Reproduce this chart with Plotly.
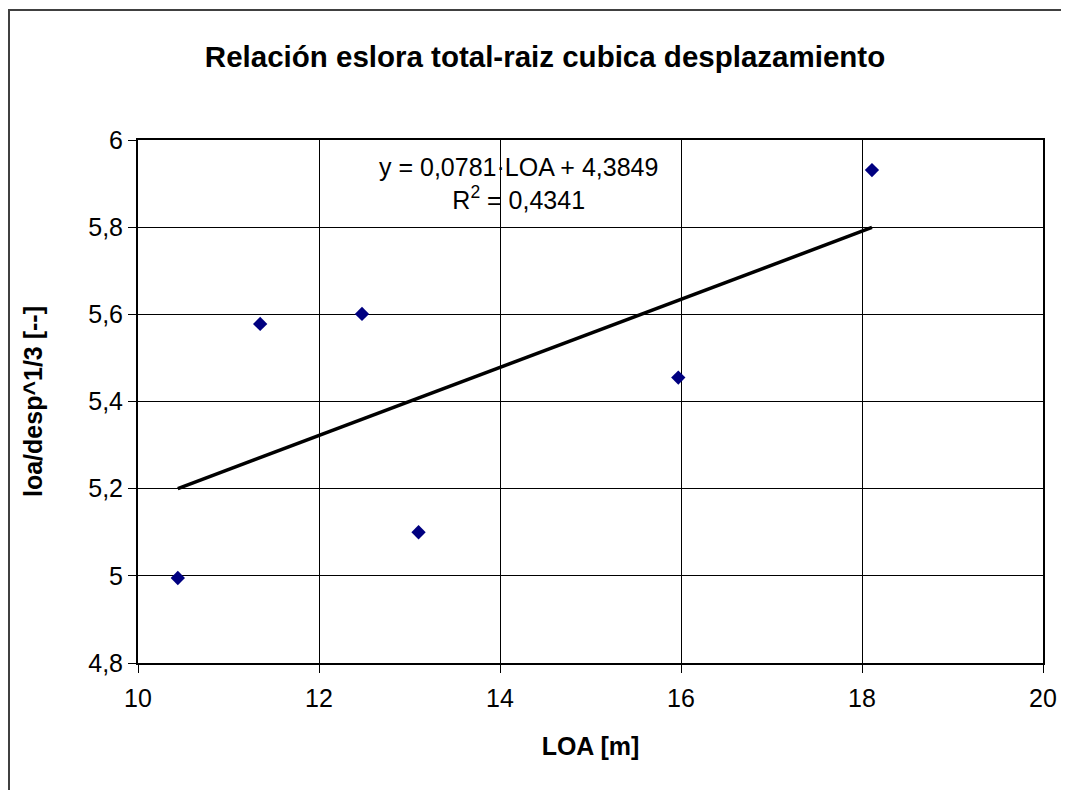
import plotly.graph_objects as go
import numpy as np

# LOA [m] and loa/desp^(1/3)
loa = [10.44, 11.35, 12.475, 13.10, 15.97, 18.11]
ratio = [4.995, 5.578, 5.601, 5.10, 5.455, 5.931]

# linear trendline as labelled on the chart
slope = 0.0781
intercept = 4.3849
r2 = 0.4341

x_ticks = [10, 12, 14, 16, 18, 20]
y_ticks = [4.8, 5.0, 5.2, 5.4, 5.6, 5.8, 6.0]

FONT = "Liberation Sans, Arial, sans-serif"

trend_x = np.array([min(loa), max(loa)])
trend_y = slope * trend_x + intercept

fig = go.Figure()

fig.add_trace(go.Scatter(
    x=trend_x, y=trend_y,
    mode='lines',
    line=dict(color='black', width=3.5),
    showlegend=False,
    hoverinfo='skip'
))

fig.add_trace(go.Scatter(
    x=loa, y=ratio,
    mode='markers',
    marker=dict(symbol='diamond', color='#000080', size=11),
    showlegend=False
))

eq_text = ("y = 0,0781·LOA + 4,3849<br>R<sup>2</sup> = 0,4341")
fig.add_annotation(
    x=14.2, y=5.975, xref='x', yref='y',
    text=eq_text, showarrow=False,
    xanchor='center', yanchor='top',
    font=dict(family=FONT, size=25, color='black'),
    align='center'
)

# page body has an 8px margin, so the figure is sized to fit the window
W, H = 1061, 782
ml, mr, mt, mb = 130, 26, 132, 127
pw, ph = W - ml - mr, H - mt - mb

# outer chart frame: only its left and top edges are inside the window
fx0 = (1 - ml) / pw
fx1 = (W - ml) / pw
fy0 = (H - mb - H) / ph
fy1 = (H - mb - 2) / ph
fig.add_shape(
    type='path', xref='paper', yref='paper',
    path=f"M {fx0} {fy0} L {fx0} {fy1} L {fx1} {fy1}",
    line=dict(color='#404040', width=2),
    layer='below'
)

axis_common = dict(
    showline=True, linecolor='black', linewidth=2, mirror=True,
    showgrid=True, gridcolor='black', gridwidth=1,
    zeroline=False,
    ticks='outside', ticklen=8, tickcolor='black', tickwidth=1,
    tickfont=dict(family=FONT, size=25, color='black'),
)

fig.update_xaxes(
    range=[10, 20], tickvals=x_ticks,
    title=dict(text='<b>LOA [m]</b>', font=dict(family=FONT, size=25, color='black'), standoff=26),
    ticklabelstandoff=4,
    **axis_common
)
fig.update_yaxes(
    range=[4.8, 6.0], tickvals=y_ticks,
    title=dict(text='<b>loa/desp^1/3 [--]</b>', font=dict(family=FONT, size=25, color='black'), standoff=38),
    **axis_common
)

fig.update_layout(
    width=W, height=H,
    margin=dict(l=ml, r=mr, t=mt, b=mb),
    paper_bgcolor='white', plot_bgcolor='white',
    separators=',.',
    title=dict(
        text='<b>Relación eslora total-raiz cubica desplazamiento</b>',
        x=537 / W, xanchor='center', y=1 - 49 / H, yanchor='middle',
        font=dict(family=FONT, size=29.5, color='black')
    ),
    font=dict(family=FONT, color='black'),
)

fig.write_html("out.html")
